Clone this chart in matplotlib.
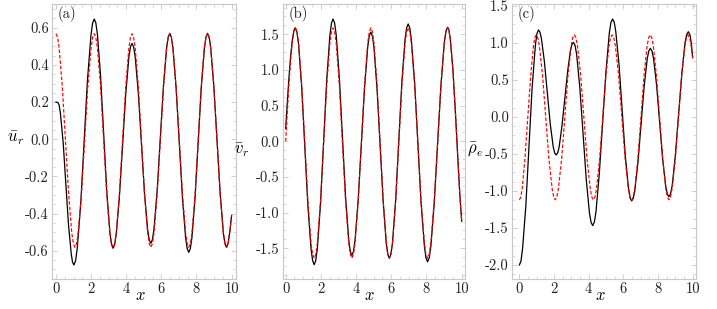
import matplotlib
matplotlib.use("Agg")
import matplotlib.pyplot as plt
from matplotlib.ticker import AutoMinorLocator

plt.rcParams['font.family'] = ['cmr10', 'DejaVu Serif']
plt.rcParams['mathtext.fontset'] = 'cm'
plt.rcParams['axes.unicode_minus'] = False

# ---------------- panel (a): u_r ----------------
xa_black = [0, 0.1, 0.177, 0.25, 0.41, 0.56, 0.71, 0.87, 0.943, 1.02,
            1.117, 1.21, 1.41, 1.6, 1.79, 1.99, 2.083, 2.18,
            2.269, 2.36, 2.54, 2.715, 2.89, 3.07, 3.161, 3.25,
            3.34, 3.43, 3.61, 3.79, 3.97, 4.15, 4.24, 4.33,
            4.419, 4.51, 4.69, 4.865, 5.04, 5.22, 5.311, 5.4,
            5.49, 5.58, 5.76, 5.94, 6.12, 6.3, 6.39, 6.48,
            6.57, 6.66, 6.84, 7.02, 7.2, 7.38, 7.47, 7.56,
            7.649, 7.74, 7.92, 8.095, 8.27, 8.45, 8.541, 8.63,
            8.72, 8.81, 8.99, 9.17, 9.35, 9.53, 9.62, 9.71,
            9.8, 9.9, 10.0]
ya_black = [0.2, 0.198, 0.185, 0.141, -0.019, -0.239, -0.458, -0.618, -0.662, -0.677,
            -0.654, -0.588, -0.346, -0.015, 0.316, 0.558, 0.625, 0.647,
            0.626, 0.564, 0.339, 0.030, -0.278, -0.504, -0.566, -0.587,
            -0.568, -0.513, -0.311, -0.036, 0.240, 0.442, 0.497, 0.516,
            0.498, 0.444, 0.247, -0.022, -0.291, -0.488, -0.542, -0.56,
            -0.541, -0.484, -0.278, 0.005, 0.287, 0.494, 0.551, 0.57,
            0.55, 0.491, 0.275, -0.019, -0.314, -0.530, -0.589, -0.609,
            -0.589, -0.530, -0.314, -0.020, 0.275, 0.491, 0.55, 0.57,
            0.55, 0.493, 0.282, -0.006, -0.294, -0.505, -0.562, -0.582,
            -0.562, -0.496, -0.41]
xa_red = [0, 0.09, 0.18, 0.36, 0.54, 0.72, 0.9, 0.99, 1.08,
          1.172, 1.26, 1.45, 1.63, 1.81, 2.0, 2.088, 2.18,
          2.269, 2.36, 2.54, 2.715, 2.89, 3.07, 3.161, 3.25,
          3.34, 3.43, 3.61, 3.79, 3.97, 4.15, 4.24, 4.33,
          4.419, 4.51, 4.69, 4.865, 5.04, 5.22, 5.311, 5.4,
          5.49, 5.58, 5.76, 5.94, 6.12, 6.3, 6.39, 6.48,
          6.57, 6.66, 6.84, 7.02, 7.2, 7.38, 7.47, 7.56,
          7.649, 7.74, 7.92, 8.095, 8.27, 8.45, 8.541, 8.63,
          8.72, 8.81, 8.99, 9.17, 9.35, 9.53, 9.62, 9.71,
          9.8, 9.9, 10.0]
ya_red = [0.568, 0.549, 0.491, 0.281, -0.007, -0.295, -0.505, -0.562, -0.582,
          -0.562, -0.505, -0.295, -0.007, 0.281, 0.491, 0.549, 0.568,
          0.549, 0.491, 0.281, -0.007, -0.295, -0.505, -0.562, -0.582,
          -0.562, -0.505, -0.295, -0.007, 0.281, 0.491, 0.549, 0.568,
          0.549, 0.491, 0.281, -0.007, -0.295, -0.505, -0.562, -0.582,
          -0.562, -0.505, -0.295, -0.007, 0.281, 0.491, 0.549, 0.568,
          0.549, 0.491, 0.281, -0.007, -0.295, -0.505, -0.562, -0.582,
          -0.562, -0.505, -0.295, -0.007, 0.281, 0.491, 0.549, 0.568,
          0.549, 0.491, 0.281, -0.007, -0.295, -0.505, -0.562, -0.582,
          -0.562, -0.496, -0.41]

# ---------------- panel (b): v_r ----------------
xb = [0, 0.092, 0.183, 0.275, 0.367, 0.458, 0.504, 0.55,
      0.639, 0.73, 0.91, 1.085, 1.26, 1.44, 1.531, 1.62,
      1.709, 1.8, 1.98, 2.155, 2.33, 2.51, 2.601, 2.69,
      2.779, 2.87, 3.05, 3.225, 3.40, 3.58, 3.671, 3.76,
      3.85, 3.94, 4.12, 4.30, 4.48, 4.66, 4.75, 4.84,
      4.928, 5.015, 5.19, 5.365, 5.54, 5.715, 5.803, 5.89,
      5.979, 6.07, 6.25, 6.425, 6.6, 6.78, 6.871, 6.96,
      7.052, 7.14, 7.33, 7.51, 7.69, 7.88, 7.968, 8.06,
      8.155, 8.25, 8.44, 8.63, 8.82, 9.01, 9.105, 9.2,
      9.27, 9.35, 9.5, 9.65, 9.8, 9.9, 10.0]
yb_black = [0.18, 0.545, 0.885, 1.177, 1.401, 1.542, 1.577, 1.59,
            1.534, 1.368, 0.76, -0.07, -0.9, -1.508, -1.674, -1.73,
            -1.671, -1.499, -0.869, -0.008, 0.854, 1.484, 1.656, 1.715,
            1.659, 1.493, 0.886, 0.058, -0.771, -1.378, -1.544, -1.6,
            -1.547, -1.39, -0.818, -0.035, 0.748, 1.32, 1.477, 1.53,
            1.476, 1.318, 0.738, -0.055, -0.847, -1.428, -1.586, -1.64,
            -1.584, -1.42, -0.819, 0.003, 0.824, 1.425, 1.589, 1.645,
            1.588, 1.422, 0.811, -0.023, -0.856, -1.467, -1.633, -1.69,
            -1.634, -1.47, -0.868, -0.045, 0.778, 1.38, 1.544, 1.6,
            1.566, 1.445, 1.011, 0.379, -0.328, -0.773, -1.12]
yb_red = [0, 0.412, 0.795, 1.124, 1.377, 1.536, 1.576, 1.59,
          1.535, 1.374, 0.783, -0.025, -0.833, -1.424, -1.585, -1.64,
          -1.585, -1.424, -0.833, -0.025, 0.783, 1.374, 1.535, 1.59,
          1.535, 1.374, 0.783, -0.025, -0.833, -1.424, -1.585, -1.64,
          -1.585, -1.424, -0.833, -0.025, 0.783, 1.374, 1.535, 1.59,
          1.535, 1.374, 0.783, -0.025, -0.833, -1.424, -1.585, -1.64,
          -1.585, -1.424, -0.833, -0.025, 0.783, 1.374, 1.535, 1.59,
          1.535, 1.374, 0.783, -0.025, -0.833, -1.424, -1.585, -1.64,
          -1.585, -1.424, -0.833, -0.025, 0.783, 1.374, 1.535, 1.59,
          1.556, 1.435, 1.002, 0.372, -0.332, -0.776, -1.12]

# ---------------- panel (c): rho_e ----------------
xc_black = [0, 0.092, 0.18, 0.37, 0.55, 0.73, 0.92, 1.008, 1.10,
            1.185, 1.27, 1.44, 1.61, 1.78, 1.95, 2.035, 2.12,
            2.203, 2.29, 2.45, 2.62, 2.79, 2.95, 3.037, 3.12,
            3.213, 3.305, 3.49, 3.675, 3.86, 4.045, 4.138, 4.23,
            4.326, 4.42, 4.61, 4.805, 5.0, 5.19, 5.284, 5.38,
            5.472, 5.56, 5.75, 5.93, 6.11, 6.3, 6.388, 6.48,
            6.57, 6.66, 6.84, 7.02, 7.2, 7.38, 7.47, 7.56,
            7.649, 7.74, 7.92, 8.095, 8.27, 8.45, 8.541, 8.63,
            8.723, 8.82, 9.0, 9.19, 9.38, 9.56, 9.657, 9.75,
            9.85, 9.93, 10.0]
yc_black = [-2.0, -1.946, -1.787, -1.206, -0.412, 0.382, 0.963, 1.122, 1.176,
            1.147, 1.063, 0.754, 0.331, -0.092, -0.401, -0.485, -0.514,
            -0.488, -0.412, -0.133, 0.248, 0.628, 0.907, 0.983, 1.009,
            0.967, 0.843, 0.39, -0.23, -0.849, -1.302, -1.426, -1.468,
            -1.421, -1.281, -0.77, -0.072, 0.626, 1.137, 1.277, 1.324,
            1.282, 1.159, 0.709, 0.095, -0.52, -0.97, -1.093, -1.135,
            -1.1, -0.997, -0.619, -0.104, 0.412, 0.79, 0.893, 0.928,
            0.894, 0.794, 0.427, -0.075, -0.576, -0.943, -1.043, -1.077,
            -1.039, -0.928, -0.52, 0.038, 0.596, 1.004, 1.115, 1.153,
            1.105, 0.98, 0.80]
xc_red = [0, 0.081, 0.16, 0.32, 0.485, 0.65, 0.81, 0.889, 0.97,
          1.062, 1.15, 1.34, 1.52, 1.7, 1.89, 1.978, 2.07,
          2.162, 2.25, 2.44, 2.62, 2.8, 2.99, 3.078, 3.17,
          3.262, 3.35, 3.54, 3.72, 3.9, 4.09, 4.178, 4.27,
          4.36, 4.45, 4.63, 4.81, 4.99, 5.17, 5.26, 5.35,
          5.444, 5.54, 5.73, 5.915, 6.1, 6.29, 6.386, 6.48,
          6.569, 6.66, 6.84, 7.015, 7.19, 7.37, 7.461, 7.55,
          7.64, 7.73, 7.91, 8.09, 8.27, 8.45, 8.54, 8.63,
          8.722, 8.81, 9.0, 9.18, 9.36, 9.55, 9.638, 9.73,
          9.83, 9.92, 10.0]
yc_red = [-1.12, -1.082, -0.971, -0.563, -0.005, 0.553, 0.961, 1.072, 1.11,
          1.072, 0.961, 0.553, -0.005, -0.563, -0.971, -1.082, -1.12,
          -1.082, -0.971, -0.563, -0.005, 0.553, 0.961, 1.072, 1.11,
          1.072, 0.961, 0.553, -0.005, -0.563, -0.971, -1.082, -1.12,
          -1.082, -0.971, -0.563, -0.005, 0.553, 0.961, 1.072, 1.11,
          1.072, 0.961, 0.553, -0.005, -0.563, -0.971, -1.082, -1.12,
          -1.082, -0.971, -0.563, -0.005, 0.553, 0.961, 1.072, 1.11,
          1.072, 0.961, 0.553, -0.005, -0.563, -0.971, -1.082, -1.12,
          -1.082, -0.971, -0.563, -0.005, 0.553, 0.961, 1.072, 1.11,
          1.065, 0.949, 0.80]

# ---------------- ticks / labels ----------------
x_ticks = [0, 2, 4, 6, 8, 10]
x_ticklabels = ['0', '2', '4', '6', '8', '10']
ya_ticks = [-0.6, -0.4, -0.2, 0.0, 0.2, 0.4, 0.6]
ya_ticklabels = ['-0.6', '-0.4', '-0.2', '0.0', '0.2', '0.4', '0.6']
yb_ticks = [-1.5, -1.0, -0.5, 0.0, 0.5, 1.0, 1.5]
yb_ticklabels = ['-1.5', '-1.0', '-0.5', '0.0', '0.5', '1.0', '1.5']
yc_ticks = [-2.0, -1.5, -1.0, -0.5, 0.0, 0.5, 1.0, 1.5]
yc_ticklabels = ['-2.0', '-1.5', '-1.0', '-0.5', '0.0', '0.5', '1.0', '1.5']

panels = [
    dict(pos=[52.3, 236.0], xlim=(-0.21, 10.25), ylim=(-0.754, 0.728),
         xb=xa_black, yb=ya_black, xr=xa_red, yr=ya_red,
         yt=ya_ticks, ytl=ya_ticklabels, ylab=r'$\bar{u}_r$', ylab_xy=(-0.20, 0.513), tag='(a)'),
    dict(pos=[282.7, 464.5], xlim=(-0.17, 10.16), ylim=(-1.935, 1.925),
         xb=xb, yb=yb_black, xr=xb, yr=yb_red,
         yt=yb_ticks, ytl=yb_ticklabels, ylab=r'$\bar{v}_r$', ylab_xy=(-0.225, 0.47), tag='(b)'),
    dict(pos=[512.3, 696.3], xlim=(-0.41, 10.21), ylim=(-2.194, 1.527),
         xb=xc_black, yb=yc_black, xr=xc_red, yr=yc_red,
         yt=yc_ticks, ytl=yc_ticklabels, ylab=r'$\bar{\rho}_e$', ylab_xy=(-0.2, 0.47), tag='(c)'),
]

W, H = 717, 309
fig = plt.figure(figsize=(W / 100, H / 100), dpi=100)
frame_col = '#c8c8c8'
top_px, bot_px = 4.0, 279.3

for p in panels:
    l, r = p['pos']
    ax = fig.add_axes([l / W, 1 - bot_px / H, (r - l) / W, (bot_px - top_px) / H])
    ax.plot(p['xb'], p['yb'], color='black', lw=0.9, zorder=2)
    ax.plot(p['xr'], p['yr'], color='#ff0000', lw=0.85, dashes=(3, 1.6), zorder=3)
    ax.set_xlim(*p['xlim'])
    ax.set_ylim(*p['ylim'])
    ax.set_xticks(x_ticks, labels=x_ticklabels)
    ax.set_yticks(p['yt'], labels=p['ytl'])
    ax.xaxis.set_minor_locator(AutoMinorLocator(4))
    ax.yaxis.set_minor_locator(AutoMinorLocator(4))
    for s in ax.spines.values():
        s.set_color(frame_col)
        s.set_linewidth(0.8)
    ax.tick_params(which='both', direction='in', color=frame_col, top=True, right=True,
                   labelsize=10.5, labelcolor='#222222')
    ax.tick_params(which='major', length=3.5, width=0.6, pad=2.5)
    ax.tick_params(which='minor', length=2.0, width=0.5)
    ax.set_xlabel(r'$x$', fontsize=12, va='center')
    ax.xaxis.set_label_coords(0.477, -0.06)
    ax.set_ylabel(p['ylab'], fontsize=12, rotation=0, va='center', ha='center')
    ax.yaxis.set_label_coords(*p['ylab_xy'])
    ax.text(0.03, 0.962, p['tag'], transform=ax.transAxes, fontsize=10.5,
            ha='left', va='center', color='#222222')

fig.savefig('out.png', dpi=100)
